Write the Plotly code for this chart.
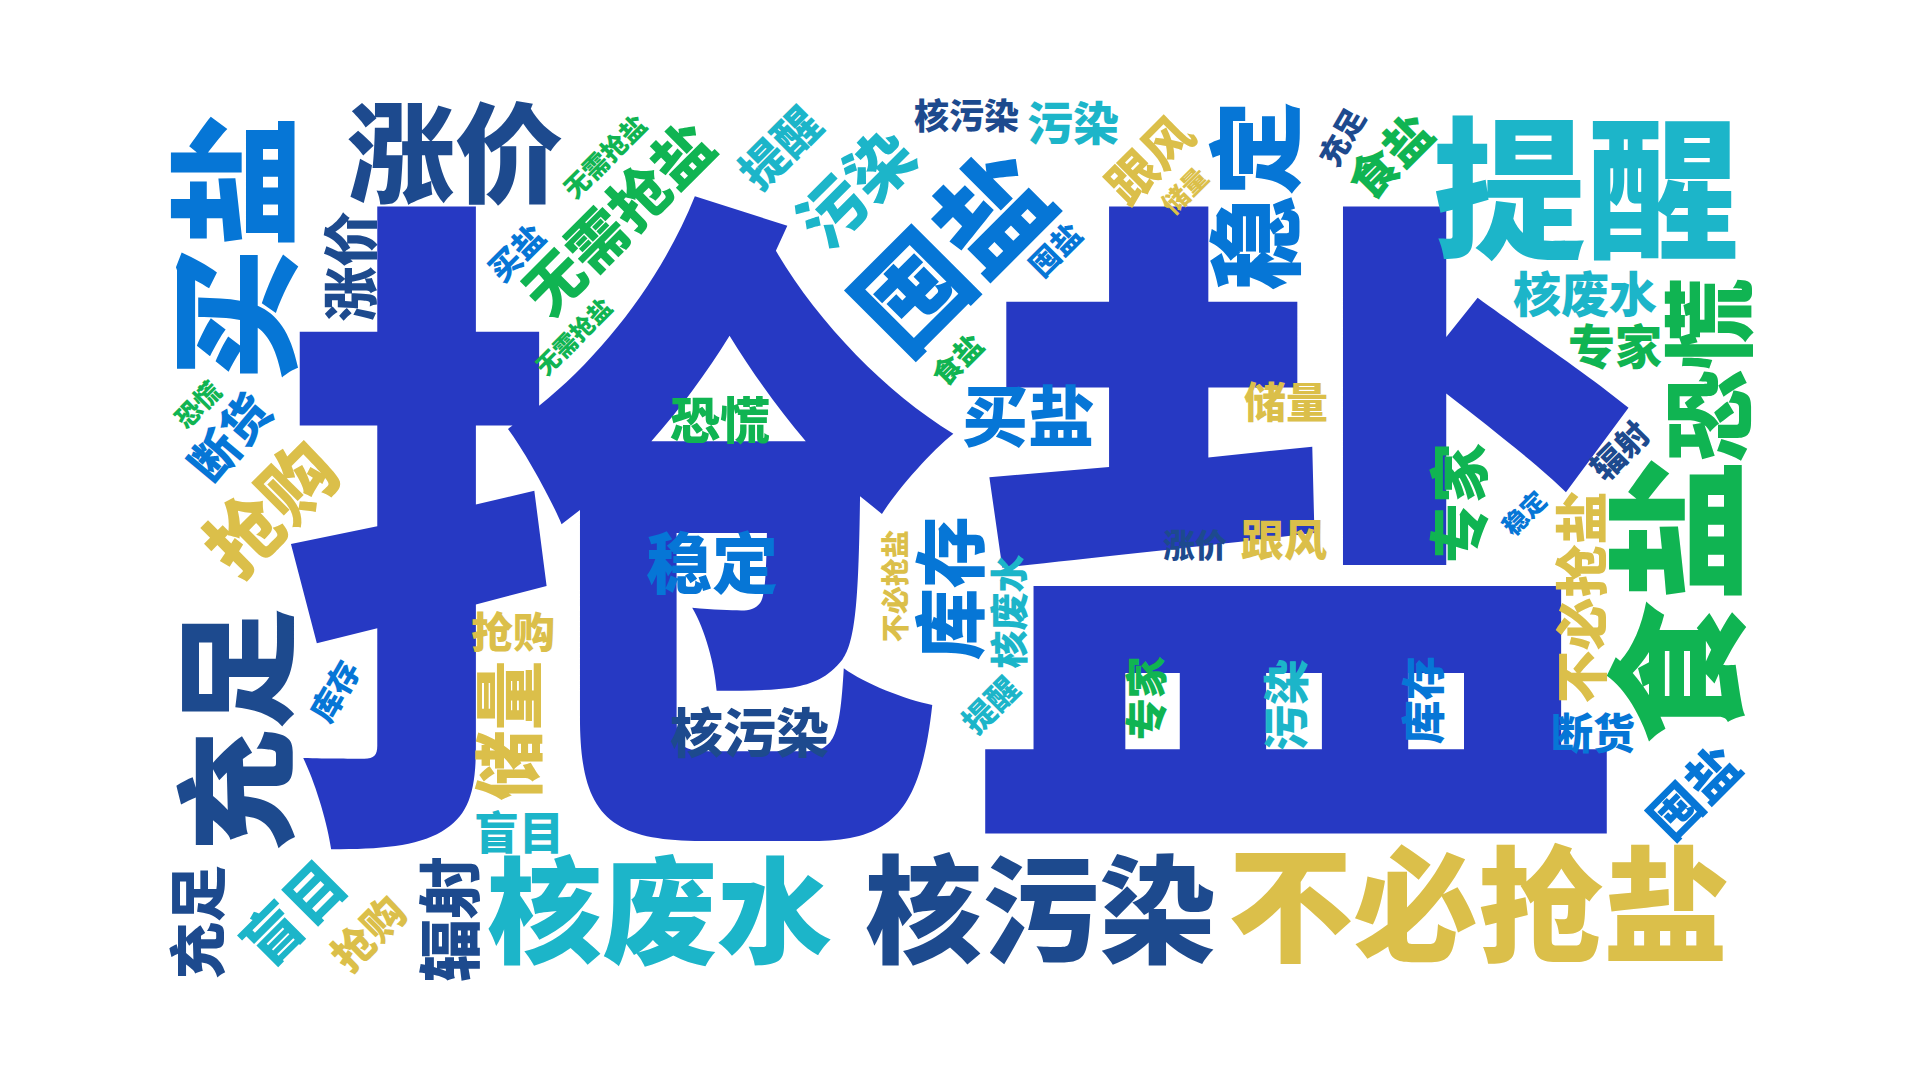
import math
import plotly.graph_objects as go

# word cloud data: words, weights (font px), layout position and rotation
words = [
    "抢盐",
    "买盐", "涨价", "涨价", "无需抢盐", "无需抢盐", "无需抢盐", "买盐", "提醒", "污染",
    "囤盐", "核污染", "污染", "跟风", "储量", "囤盐", "稳定", "充足", "食盐",
    "提醒", "核废水", "恐慌", "专家", "食盐", "辐射", "专家", "稳定", "不必抢盐",
    "断货", "囤盐", "不必抢盐", "核污染", "核废水", "辐射", "盲目", "盲目", "抢购",
    "充足", "充足", "库存", "抢购", "储量", "核污染", "稳定", "恐慌", "抢购",
    "断货", "恐慌", "食盐", "买盐", "储量", "跟风", "涨价", "库存", "核废水",
    "不必抢盐", "提醒", "专家", "污染", "库存",
]
weights = [
    680,
    133, 108, 55, 60, 26, 24, 32, 46, 66,
    112, 35, 46, 49, 26, 30, 95, 30, 48,
    153, 48, 92, 47, 143, 33, 60, 25, 53,
    42, 52, 125, 117, 115, 63, 45, 59, 42,
    57, 122, 32, 42, 70, 53, 66, 50, 75,
    48, 26, 29, 66, 42, 43, 32, 72, 38,
    28, 32, 42, 46, 44,
]
pos_x = [
    948,
    228, 447, 343, 610, 597, 566, 508, 772, 848,
    944, 958, 1065, 1142, 1177, 1047, 1248, 1334, 1382,
    1578, 1577, 1701, 1607, 1670, 1613, 1451, 1516, 1574,
    1585, 1686, 1470, 1032, 651, 441, 511, 286, 360,
    190, 228, 327, 505, 502, 741, 704, 712, 263,
    222, 190, 949, 1020, 1278, 1276, 1187, 942, 1000,
    888, 982, 1138, 1278, 1416,
]
pos_y = [
    528,
    240, 146, 258, 210, 149, 329, 245, 140, 180,
    244, 108, 115, 152, 183, 242, 188, 129, 149,
    182, 286, 362, 339, 594, 443, 495, 505, 590,
    725, 785, 898, 903, 903, 911, 825, 905, 925,
    914, 722, 683, 624, 722, 725, 555, 412, 501,
    430, 397, 352, 408, 394, 532, 537, 580, 604,
    578, 697, 690, 697, 692,
]
angles = [
    0,
    -90, 0, -90, -45, -45, -45, -45, -45, -45,
    -45, 0, 0, -45, -45, -45, -90, -60, -45,
    0, 0, -90, 0, -90, -45, -90, -45, -90,
    0, -45, 0, 0, 0, -90, 0, -45, -45,
    -90, -90, -60, 0, -90, 0, 0, 0, -45,
    -50, -45, -45, 0, 0, 0, 0, -90, -90,
    -90, -45, -90, -90, -90,
]
groups = [
    "main",
    "blue", "navy", "navy", "green", "green", "green", "blue", "teal", "teal",
    "blue", "navy", "teal", "gold", "gold", "blue", "blue", "navy", "green",
    "teal", "teal", "green", "green", "green", "navy", "green", "blue", "gold",
    "blue", "blue", "gold", "navy", "teal", "navy", "teal", "teal", "gold",
    "navy", "navy", "blue", "gold", "gold", "navy", "blue", "green", "gold",
    "blue", "green", "green", "blue", "gold", "gold", "navy", "blue", "teal",
    "gold", "teal", "green", "teal", "blue",
]

palette = {
    "main": "#2639C3",
    "navy": "#1D4A8E",
    "blue": "#0676D6",
    "teal": "#1CB5C9",
    "green": "#10B452",
    "gold": "#DBBF4A",
}

# CJK glyphs sit low in the annotation box; nudge them back along their own "up"
BASELINE_NUDGE = 0.065

fig = go.Figure()

for w, s, x, y, a, g in zip(words, weights, pos_x, pos_y, angles, groups):
    rad = math.radians(a)
    fig.add_annotation(
        x=x, y=y, text=w, textangle=a,
        showarrow=False, xanchor="center", yanchor="middle",
        xshift=BASELINE_NUDGE * s * math.sin(rad),
        yshift=BASELINE_NUDGE * s * math.cos(rad),
        font=dict(family="Noto Sans CJK SC", size=s, color=palette[g], weight=900),
    )

fig.update_layout(
    width=1920, height=1080,
    margin=dict(l=0, r=0, t=0, b=0),
    paper_bgcolor="white", plot_bgcolor="white",
    showlegend=False,
    xaxis=dict(range=[0, 1920], visible=False, fixedrange=True),
    yaxis=dict(range=[1080, 0], visible=False, fixedrange=True),
)

fig.write_html("out.html")
